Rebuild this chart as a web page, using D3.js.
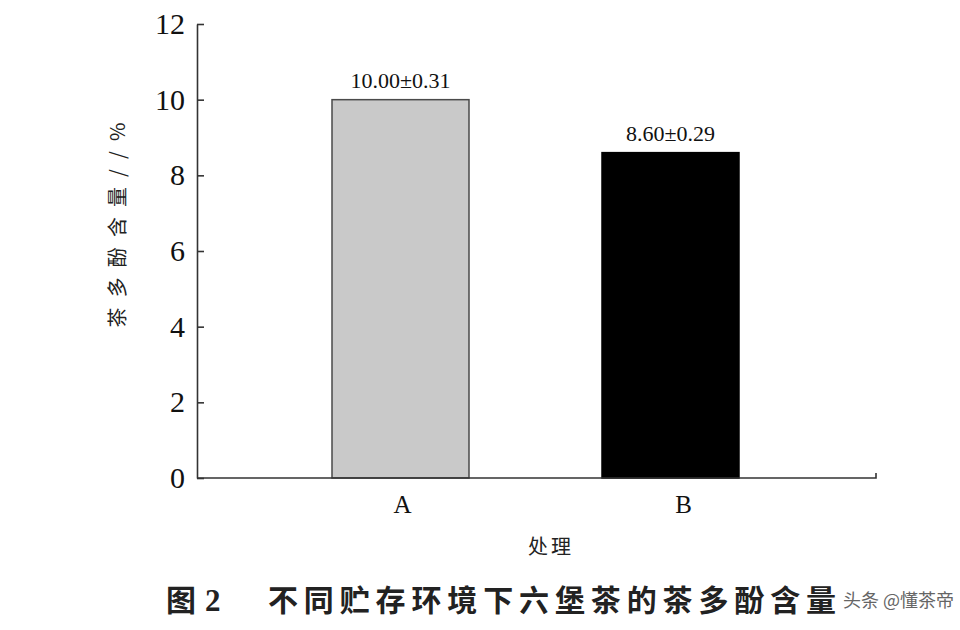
<!DOCTYPE html>
<html><head><meta charset="utf-8">
<script src="https://cdn.jsdelivr.net/npm/d3@7"></script>
<style>
html,body{margin:0;padding:0;background:#fff;}
svg{display:block;}
</style></head>
<body>
<svg id="c" width="960" height="630"></svg>
<script>
const categories = ["A", "B"];
const values = [10.00, 8.60];
const errors = [0.31, 0.29];
const yTicks = [0, 2, 4, 6, 8, 10, 12];
const yTitle = "茶多酚含量//%";
const xTitle = "处理";
const figNo = "图 2";
const figTitle = "不同贮存环境下六堡茶的茶多酚含量";
const watermark = "头条 @懂茶帝";

const svg = d3.select("#c");
const serif = "'Liberation Serif','DejaVu Serif',serif";
const cjk = "'Noto Sans CJK SC','Noto Sans CJK JP',sans-serif";

const axisX0 = 197, axisX1 = 876;
const y = d3.scaleLinear().domain([0, 12]).range([478, 24]);
const x = d3.scaleBand().domain(categories).range([265.5, 805.5])
  .paddingInner(0.4926).paddingOuter(0.2463);

// bars
const fills = ["#c9c9c9", "#000000"];
const strokes = ["#4a4a4a", "#000000"];
svg.append("g").selectAll("rect").data(categories).join("rect")
  .attr("x", d => x(d))
  .attr("y", (d, i) => y(values[i]))
  .attr("width", x.bandwidth())
  .attr("height", (d, i) => y(0) - y(values[i]))
  .attr("fill", (d, i) => fills[i])
  .attr("stroke", (d, i) => strokes[i])
  .attr("stroke-width", 1.5);

// value labels
svg.append("g").selectAll("text").data(categories).join("text")
  .attr("x", d => x(d) + x.bandwidth() / 2)
  .attr("y", (d, i) => y(values[i]) - 12)
  .attr("text-anchor", "middle")
  .attr("font-family", serif).attr("font-size", 22).attr("fill", "#111")
  .text((d, i) => values[i].toFixed(2) + "±" + errors[i].toFixed(2));

// y axis
const yAxis = d3.axisLeft(y).tickValues(yTicks).tickSize(-7).tickSizeOuter(0).tickPadding(12);
const gy = svg.append("g").attr("transform", `translate(${axisX0},0)`).call(yAxis);
gy.select(".domain").attr("stroke", "#333").attr("stroke-width", 1.6);
gy.selectAll(".tick line").attr("stroke", "#333").attr("stroke-width", 1.6);
gy.selectAll(".tick text").attr("font-family", serif).attr("font-size", 30).attr("fill", "#111");

// x axis
const gx = svg.append("g").attr("transform", `translate(0,${y(0)})`)
  .call(d3.axisBottom(x).tickSize(0).tickPadding(17));
gx.select(".domain").remove();
gx.selectAll(".tick text").attr("font-family", serif).attr("font-size", 25).attr("fill", "#111")
  .attr("dx", (d, i) => 2 + i * 11);
svg.append("path")
  .attr("d", `M${axisX0},${y(0)}H${axisX1}V${y(0) - 5}`)
  .attr("fill", "none").attr("stroke", "#333").attr("stroke-width", 1.6);

// axis titles
svg.append("text")
  .attr("transform", "translate(125,225) rotate(-90)")
  .attr("text-anchor", "middle")
  .attr("font-family", cjk).attr("font-size", 20).attr("fill", "#222")
  .attr("textLength", 205).attr("lengthAdjust", "spacing")
  .text(yTitle);

svg.append("text")
  .attr("x", 551).attr("y", 554)
  .attr("text-anchor", "middle")
  .attr("font-family", cjk).attr("font-size", 20).attr("fill", "#222")
  .attr("letter-spacing", 3)
  .text(xTitle);

// figure caption
svg.append("text")
  .attr("x", 166).attr("y", 611)
  .attr("font-family", cjk).attr("font-weight", "bold").attr("font-size", 30).attr("fill", "#222")
  .text(figNo.split(" ")[0]);
svg.append("text")
  .attr("x", 205).attr("y", 611)
  .attr("font-family", serif).attr("font-weight", "bold").attr("font-size", 31).attr("fill", "#222")
  .text(figNo.split(" ")[1]);
svg.append("text")
  .attr("x", 268).attr("y", 611)
  .attr("font-family", cjk).attr("font-weight", "bold").attr("font-size", 30).attr("fill", "#222")
  .attr("textLength", 568).attr("lengthAdjust", "spacing")
  .text(figTitle);

// watermark
svg.append("text")
  .attr("x", 843).attr("y", 607)
  .attr("font-family", cjk).attr("font-size", 18).attr("fill", "#555")
  .attr("opacity", 0.9)
  .text(watermark);
</script>
</body></html>
